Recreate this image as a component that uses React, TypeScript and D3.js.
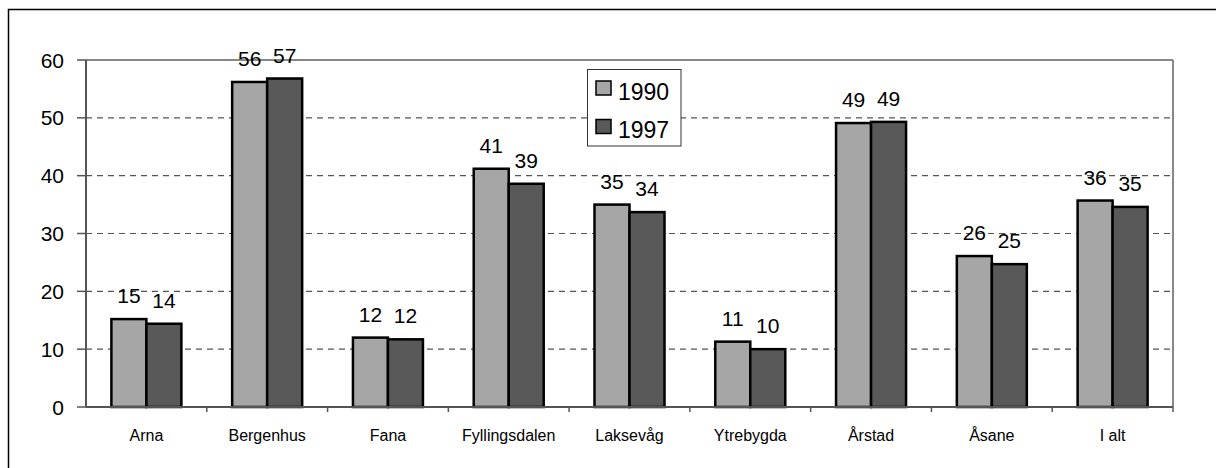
import React from 'react';
import * as d3 from 'd3';

// categories and series
const districts = ['Arna', 'Bergenhus', 'Fana', 'Fyllingsdalen', 'Laksevåg', 'Ytrebygda', 'Årstad', 'Åsane', 'I alt'];
const series = ['1990', '1997'];
const values1990 = [15.2, 56.2, 12.0, 41.2, 35.0, 11.3, 49.1, 26.1, 35.7];
const values1997 = [14.4, 56.8, 11.7, 38.6, 33.7, 10.0, 49.3, 24.7, 34.6];
const labels1990 = ['15', '56', '12', '41', '35', '11', '49', '26', '36'];
const labels1997 = ['14', '57', '12', '39', '34', '10', '49', '25', '35'];
const yTicks = [0, 10, 20, 30, 40, 50, 60];

const colors = ['#a6a6a6', '#595959'];

export default function App() {
  const width = 1216;
  const height = 468;
  const left = 86;
  const right = 1173;
  const top = 60;
  const bottom = 407;
  const font = 'Liberation Sans, Arial, sans-serif';

  // x band per district, inner band per series
  const x = d3.scaleBand().domain(districts).range([left, right]).padding(0);
  const x1 = d3.scaleBand().domain(series).range([0, 70]).padding(0);
  const y = d3.scaleLinear().domain([0, 60]).range([bottom, top]);

  const data = [values1990, values1997];
  const labels = [labels1990, labels1997];

  return (
    <svg width={width} height={height} style={{ position: 'absolute', left: 0, top: 0 }}>
      <rect x={0} y={0} width={width} height={height} fill="white" />
      {/* outer frame */}
      <rect x={8.5} y={9.5} width={1260} height={500} fill="none" stroke="black" strokeWidth={1.5} />

      {/* dashed gridlines */}
      {yTicks.filter(t => t > 0 && t < 60).map(t => (
        <line key={t} x1={left} x2={right} y1={y(t)} y2={y(t)} stroke="#555" strokeWidth={1.2} strokeDasharray="6,5" />
      ))}
      {/* plot border top & right */}
      <line x1={left} x2={right} y1={top} y2={top} stroke="#888" strokeWidth={2} />
      <line x1={right} x2={right} y1={top} y2={bottom} stroke="#888" strokeWidth={2} />

      {/* bars */}
      {districts.map((d, i) => {
        const gx = x(d)! + (x.bandwidth() - 70) / 2;
        return (
          <g key={d}>
            {series.map((s, j) => (
              <rect key={s} x={gx + x1(s)!} y={y(data[j][i])} width={x1.bandwidth()}
                height={bottom - y(data[j][i])} fill={colors[j]} stroke="black" strokeWidth={2.5} />
            ))}
            {series.map((s, j) => (
              <text key={'l' + s} x={gx + x1(s)! + x1.bandwidth() / 2} y={y(data[j][i]) - 16}
                textAnchor="middle" fontFamily={font} fontSize={21} fill="black">{labels[j][i]}</text>
            ))}
          </g>
        );
      })}

      {/* y axis */}
      <line x1={left} x2={left} y1={top} y2={bottom} stroke="#555" strokeWidth={2} />
      {yTicks.map(t => (
        <g key={t}>
          <line x1={left - 9} x2={left} y1={y(t)} y2={y(t)} stroke="#555" strokeWidth={1.5} />
          <text x={64} y={y(t)} dy="0.36em" textAnchor="end" fontFamily={font} fontSize={21} fill="black">{t}</text>
        </g>
      ))}

      {/* x axis */}
      <line x1={left} x2={right} y1={bottom} y2={bottom} stroke="#555" strokeWidth={2} />
      {districts.map(d => (
        <line key={'t' + d} x1={x(d)! + x.bandwidth()} x2={x(d)! + x.bandwidth()} y1={bottom} y2={bottom + 5}
          stroke="#555" strokeWidth={1.5} />
      ))}
      {districts.map(d => (
        <text key={'c' + d} x={x(d)! + x.bandwidth() / 2} y={441} textAnchor="middle"
          fontFamily={font} fontSize={16} fill="black">{d}</text>
      ))}

      {/* legend */}
      <rect x={587.5} y={69.5} width={93.5} height={76.5} fill="white" stroke="#333" strokeWidth={1} />
      {series.map((s, j) => (
        <g key={'lg' + s}>
          <rect x={596} y={81 + j * 38.5} width={15} height={14} fill={colors[j]} stroke="black" strokeWidth={1.5} />
          <text x={618} y={99.5 + j * 38.5} fontFamily={font} fontSize={23} fill="black">{s}</text>
        </g>
      ))}
    </svg>
  );
}
